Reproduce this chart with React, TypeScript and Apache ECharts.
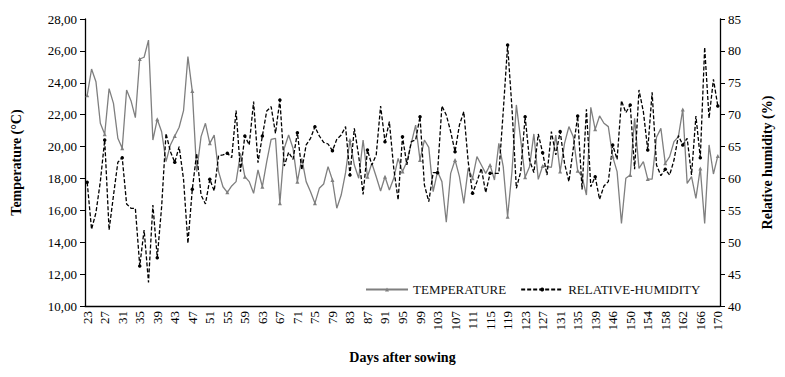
import React, { useEffect, useRef } from "react";
import * as echarts from "echarts";

// Days after sowing (categories)
const days: number[] = [];
for (let d = 23; d <= 139; d++) days.push(d);
days.push(140, 141, 142);
for (let d = 146; d <= 170; d++) days.push(d);

const temperature = [
  23.21, 24.86, 24.07, 21.46, 20.77, 23.63, 22.71, 20.52, 19.89, 23.55,
  22.88, 21.81, 25.49, 25.6, 26.68, 20.41, 21.71, 20.93, 19.05, 20.1,
  20.66, 21.21, 22.25, 25.64, 23.48, 18.43, 20.62, 21.46, 20.2, 20.72,
  18.43, 17.48, 17.13, 17.53, 17.8, 19.57, 18.11, 17.8, 17.07, 18.53,
  17.48, 19.05, 20.45, 20.52, 16.44, 19.89, 20.72, 19.89, 17.8, 19.26,
  17.8, 17.17, 16.44, 17.38, 17.65, 18.74, 17.9, 16.13, 16.96, 18.36,
  20.41, 18.84, 18.01, 20.41, 18.11, 18.95, 18.11, 17.21, 18.11, 17.28,
  18.01, 19.26, 18.43, 19.05, 20.2, 21.35, 19.16, 20.41, 19.95, 17.17,
  18.43, 17.8, 15.25, 18.32, 19.16, 18.11, 16.44, 18.63, 18.01, 19.37,
  18.84, 18.32, 18.84, 17.9, 20.2, 18.74, 15.6, 18.43, 22.61, 20.41,
  18.07, 18.74, 20.79, 17.94, 18.78, 18.74, 18.7, 20.72, 18.43, 20.2,
  21.25, 20.62, 18.49, 18.11, 16.96, 22.46, 21.08, 21.92, 21.46, 21.25,
  19.37, 18.43, 15.18, 18.01, 18.22, 21.77, 18.63, 19.05, 17.96, 17.96,
  20.58, 21.14, 18.95, 19.37, 20.31, 20.62, 22.33, 17.69, 18.11, 16.75,
  18.63, 15.18, 20.1, 18.28, 19.41,
];

const humidity = [
  59.39, 52.02, 54.64, 59.5, 66.03, 51.92, 57.3, 62.53, 63.26, 56.0,
  55.32, 55.32, 46.28, 51.92, 43.71, 55.84, 47.58, 55.58, 67.07, 64.2,
  62.53, 64.98, 59.86, 49.83, 58.29, 63.94, 57.41, 56.0, 59.86, 58.03,
  63.57, 63.68, 63.94, 63.26, 70.63, 61.06, 66.66, 65.25, 72.04, 62.48,
  66.66, 70.58, 71.26, 67.07, 72.3, 61.95, 64.1, 62.99, 67.18, 61.33,
  65.25, 66.29, 68.12, 66.66, 65.66, 65.4, 64.36, 66.13, 66.81, 68.12,
  60.54, 67.86, 63.52, 57.51, 64.46, 62.11, 63.68, 71.36, 65.77, 68.9,
  61.59, 56.62, 66.55, 62.11, 65.77, 66.03, 69.69, 58.98, 56.36, 60.91,
  60.91, 71.36, 69.95, 67.34, 64.2, 68.38, 70.47, 62.63, 57.67, 59.5,
  61.59, 57.77, 60.8, 60.8, 60.8, 70.47, 80.92, 70.99, 58.45, 61.06,
  69.69, 62.89, 60.91, 66.97, 64.04, 60.54, 67.34, 63.68, 67.34, 62.37,
  59.5, 64.72, 69.79, 58.29, 70.84, 58.71, 60.28, 56.72, 58.82, 59.5,
  65.25, 62.99, 72.2, 70.31, 71.52, 61.43, 73.87, 70.47, 64.46, 73.5,
  62.11, 60.44, 61.43, 60.54, 62.89, 66.71, 65.25, 66.29, 60.54, 69.79,
  63.26, 80.56, 69.43, 75.54, 71.36,
];

const seriesNames = ["TEMPERATURE", "RELATIVE-HUMIDITY"];

const FONT = "'Liberation Serif', 'Times New Roman', serif";

export default function App() {
  const ref = useRef<HTMLDivElement>(null);
  useEffect(() => {
    if (!ref.current) return;
    const chart = echarts.init(ref.current, undefined, { renderer: "svg" });
    chart.setOption({
      animation: false,
      backgroundColor: "#ffffff",
      textStyle: { fontFamily: FONT },
      grid: { left: 85, right: 65, top: 19, bottom: 71 },
      legend: {
        left: 360,
        top: 278,
        itemWidth: 42,
        itemHeight: 5,
        itemGap: 14,
        textStyle: { fontFamily: FONT, fontSize: 13, color: "#111" },
        data: seriesNames,
      },
      xAxis: {
        type: "category",
        data: days.map(String),
        boundaryGap: true,
        name: "Days after sowing",
        nameLocation: "middle",
        nameGap: 44,
        nameTextStyle: { fontFamily: FONT, fontSize: 14, fontWeight: "bold", color: "#000" },
        axisLine: { lineStyle: { color: "#000", width: 1.3 } },
        axisTick: { show: false },
        axisLabel: {
          interval: 3,
          rotate: 90,
          margin: 5,
          fontFamily: FONT,
          fontSize: 13,
          color: "#000",
        },
        splitLine: { show: false },
      },
      yAxis: [
        {
          type: "value",
          min: 10,
          max: 28,
          interval: 2,
          name: "Temperature (°C)",
          nameLocation: "middle",
          nameGap: 62,
          nameTextStyle: { fontFamily: FONT, fontSize: 14, fontWeight: "bold", color: "#000" },
          axisLine: { show: true, lineStyle: { color: "#000", width: 1.3 } },
          axisTick: { show: true, length: 5, lineStyle: { color: "#000" } },
          axisLabel: {
            margin: 8,
            fontFamily: FONT,
            fontSize: 13,
            color: "#000",
            formatter: (v: number) => v.toFixed(2).replace(".", ","),
          },
          splitLine: { show: false },
        },
        {
          type: "value",
          min: 40,
          max: 85,
          interval: 5,
          name: "Relative humidity (%)",
          nameLocation: "middle",
          nameGap: 40,
          nameRotate: 90,
          nameTextStyle: { fontFamily: FONT, fontSize: 14, fontWeight: "bold", color: "#000" },
          axisLine: { show: true, lineStyle: { color: "#000", width: 1.3 } },
          axisTick: { show: true, length: 5, lineStyle: { color: "#000" } },
          axisLabel: { margin: 8, fontFamily: FONT, fontSize: 13, color: "#000" },
          splitLine: { show: false },
        },
      ],
      series: [
        {
          name: seriesNames[0],
          type: "line",
          yAxisIndex: 0,
          data: temperature,
          symbol: "triangle",
          symbolSize: 4,
          itemStyle: { color: "#7f7f7f" },
          lineStyle: { color: "#7f7f7f", width: 1.3 },
        },
        {
          name: seriesNames[1],
          type: "line",
          yAxisIndex: 1,
          data: humidity,
          symbol: "circle",
          symbolSize: 3.5,
          itemStyle: { color: "#000" },
          lineStyle: { color: "#000", width: 1.3, type: [4, 2] },
        },
      ],
    });
    return () => chart.dispose();
  }, []);
  return (
    <div
      ref={ref}
      style={{ position: "absolute", left: 0, top: 0, width: 785, height: 377 }}
    />
  );
}
